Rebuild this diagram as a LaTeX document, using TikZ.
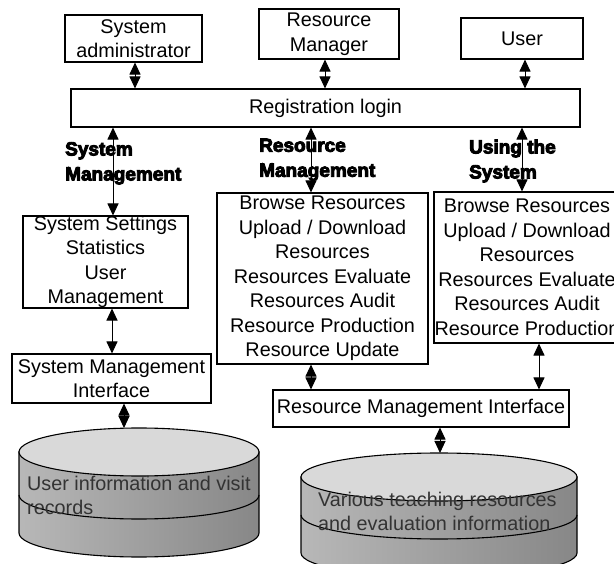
\documentclass[tikz,border=0pt]{standalone}
\usepackage{fontspec}
\setmainfont{Liberation Sans}
\newfontfamily\heavyfont{Liberation Sans Bold}
\usetikzlibrary{arrows.meta}

% heavy outlined lettering for the group headings
\newcommand\heavytext[1]{%
  \special{pdf:literal direct 2 Tr 0.9 w}#1\special{pdf:literal direct 0 Tr}}

\tikzset{
  box/.style={draw, line width=1.1pt, align=center, inner sep=0pt,
    font=\fontsize{19.8}{24.5}\selectfont},
  biarrow/.style={line width=1pt,
    {Triangle[length=12pt,width=11pt]}-{Triangle[length=12pt,width=11pt]}},
  heading/.style={align=left, anchor=north west, inner sep=0pt,
    font=\heavyfont\fontsize{19}{25}\selectfont},
  disktext/.style={align=left, anchor=west, inner sep=0pt, text=black!80,
    font=\fontsize{19.8}{24}\selectfont},
  diskbody/.style={draw, line width=1.1pt, left color=black!28,
    middle color=black!20, right color=black!47},
  disktop/.style={draw, line width=1.1pt, fill=black!15},
  diskline/.style={line width=1.1pt},
}

% storage disk: centre x, x radius, y radius, top y, ring y, bottom y
\newcommand\drawdisk[6]{%
  \path[diskbody] (#1-#2,#4) -- (#1-#2,#6)
    arc[start angle=180, end angle=0, x radius=#2, y radius=#3]
    -- (#1+#2,#4) -- cycle;
  \draw[diskline] (#1-#2,#5)
    arc[start angle=180, end angle=0, x radius=#2, y radius=#3];
  \path[disktop] (#1,#4) ellipse[x radius=#2, y radius=#3];
}

\begin{document}
\begin{tikzpicture}[x=1pt, y=-1pt]
  \path[use as bounding box] (0,0) rectangle (614,564);
  \clip (0,0) rectangle (614,564);

  % actors
  \node[box, minimum width=137, minimum height=47] (sa) at (133.5,38.5)
    {System\\administrator};
  \node[box, minimum width=140, minimum height=50] (rm) at (329,34)
    {Resource\\Manager};
  \node[box, minimum width=122, minimum height=41] (user) at (522,38.5) {User};

  % login
  \node[box, minimum width=509, minimum height=38] (reg) at (325.5,108)
    {Registration login};

  % function groups
  \node[box, minimum width=165, minimum height=90] (ss) at (105.5,262)
    {System Settings\\Statistics\\User\\Management};
  \node[box, minimum width=211, minimum height=171] (mb) at (322.5,278.5)
    {Browse Resources\\Upload / Download\\Resources\\Resources Evaluate\\Resources Audit\\Resource Production\\Resource Update};
  \node[box, minimum width=186, minimum height=151] (rb) at (527,267.5)
    {Browse Resources\\Upload / Download\\Resources\\Resources Evaluate\\Resources Audit\\Resource Production};

  % interfaces
  \node[box, minimum width=199, minimum height=49] (smi) at (111.5,378.5)
    {System Management\\Interface};
  \node[box, minimum width=296, minimum height=37] (rmi) at (421,408.5)
    {Resource Management Interface};

  % data stores
  \drawdisk{139}{120}{24}{452}{495}{533}
  \drawdisk{439}{138}{24}{477}{515}{553}
  \coordinate (db1) at (124,428);
  \coordinate (db2) at (440,453);
  \node[disktext] (db1text) at (27,495) {User information and visit\\records};
  \node[disktext] (db2text) at (318,511.5) {Various teaching resources\\and evaluation information};

  % group headings
  \node[heading] (h1) at (65,142) {\heavytext{System}\\\heavytext{Management}};
  \node[heading] (h2) at (259,138.5) {\heavytext{Resource}\\\heavytext{Management}};
  \node[heading] (h3) at (469,139.5) {\heavytext{Using the}\\\heavytext{System}};

  % connectors
  \draw[biarrow] ([xshift=1.5pt]sa.south) -- ([xshift=1.5pt]sa.south |- reg.north);
  \draw[biarrow] ([xshift=-4pt]rm.south) -- ([xshift=-4pt]rm.south |- reg.north);
  \draw[biarrow] ([xshift=3pt]user.south) -- ([xshift=3pt]user.south |- reg.north);

  \draw[biarrow] ([xshift=7.5pt]ss.north |- reg.south) -- ([xshift=7.5pt]ss.north);
  \draw[biarrow] ([xshift=-11.5pt]mb.north |- reg.south) -- ([xshift=-11.5pt]mb.north);
  \draw[biarrow] ([xshift=-5pt]rb.north |- reg.south) -- ([xshift=-5pt]rb.north);

  \draw[biarrow] ([xshift=6.5pt]ss.south) -- ([xshift=6.5pt]ss.south |- smi.north);
  \draw[biarrow] (smi.south -| db1) -- (db1);

  \draw[biarrow] ([xshift=-11.5pt]mb.south) -- ([xshift=-11.5pt]mb.south |- rmi.north);
  \draw[biarrow] ([xshift=12pt]rb.south) -- ([xshift=12pt]rb.south |- rmi.north);
  \draw[biarrow] (rmi.south -| db2) -- (db2);
\end{tikzpicture}
\end{document}
